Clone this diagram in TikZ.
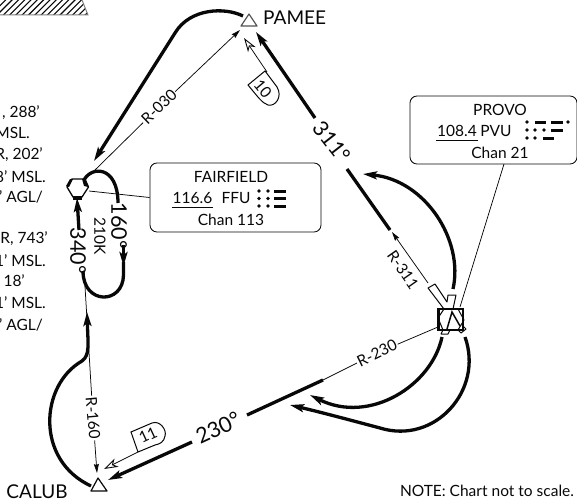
\documentclass[tikz,border=0pt]{standalone}
\usepackage{fontspec}
\setmainfont{Lato}
\usetikzlibrary{arrows.meta,patterns}
\definecolor{fg}{gray}{0.03}
\tikzset{
 x=1pt,y=-1pt,
 heavy/.style={line width=3.3pt,draw=fg},
 heavytip/.style={-{Stealth[length=14pt,width=8pt,inset=3pt]}},
 thinline/.style={line width=0.75pt,draw=fg},
 thintip/.style={-{Stealth[length=9pt,width=5pt,inset=1pt]}},
 opentip/.style={-{Stealth[open,fill=white,length=14pt,width=9pt,inset=4pt,line width=0.9pt]}},
 fixmark/.style={draw=fg,line width=1pt,fill=white,line join=round},
 lbl/.style={fill=white,inner sep=1pt,font=\fontsize{15.5}{15.5}\selectfont,text=fg},
 bigdeg/.style={fill=white,inner sep=1pt,font=\fontsize{21.5}{21.5}\selectfont,text=fg},
 wpname/.style={inner sep=0pt,font=\fontsize{19}{19}\selectfont,text=fg},
 cutoff/.style={anchor=east,inner sep=0pt,font=\fontsize{15.5}{15.5}\selectfont,text=fg},
 boxline/.style={inner sep=0pt,font=\fontsize{15.5}{15.5}\selectfont,text=fg},
 infobox/.style={draw=fg,line width=0.85pt,rounded corners=7pt,fill=white},
 flagbox/.style={draw=fg,line width=1pt,fill=white},
 morse/.style={line width=3pt,draw=fg},
 dotm/.style={fill=fg,draw=none},
}
\begin{document}
\begin{tikzpicture}
\useasboundingbox (0,0) rectangle (577,500);
\clip (0,0) rectangle (577,500);

% hatched strip
\begin{scope}
 \clip (0,0) -- (82,0) -- (88,15) -- (0,15) -- cycle;
 \foreach \i in {-2,...,16} { \draw[line width=1.1pt,fg] (\i*6.3-4,16) -- (\i*6.3+14,-2); }
\end{scope}
\draw[line width=1pt,gray] (0,15) -- (88,15) -- (82,0);

% clipped text at the left
\node[cutoff] at (40,113) {, 288’};
\node[cutoff] at (30,133) {MSL.};
\node[cutoff] at (43,155) {R, 202’};
\node[cutoff] at (46,177) {8’ MSL.};
\node[cutoff] at (43,197) {’ AGL/};
\node[cutoff] at (48,239) {R, 743’};
\node[cutoff] at (46,261) {1’ MSL.};
\node[cutoff] at (25,282) {, 18’};
\node[cutoff] at (46,303) {1’ MSL.};
\node[cutoff] at (43,325) {’ AGL/};

% named positions
\coordinate (pameeIn) at (240,30);
\coordinate (pameeOut) at (243,16);
\coordinate (pameeTip) at (256,32);
\coordinate (ffuOut) at (95,170);
\coordinate (ffuTip) at (94,161);
\coordinate (ffuNE) at (89,191);
\coordinate (vorW) at (438,327);
\coordinate (vorNW) at (428,283);
\coordinate (vorN) at (460,307);
\coordinate (calubIn) at (97,473);
\coordinate (calubTip) at (108,480);
\coordinate (calubOut) at (91,486);
\coordinate (holdEnd) at (84,270);
\coordinate (r311Tip) at (392,232);

% thin radials
\node[lbl,rotate=44] (r030) at (159,107) {R-030};
\node[lbl,rotate=-55,fill=none] (r311) at (403,270) {R-311};
\node[lbl,rotate=26] (r230) at (377,353) {R-230};
\node[lbl,rotate=-85] (r160) at (93,418) {R-160};
\draw[thinline] (ffuOut) -- (r030);
\draw[thinline,thintip] (r030) -- (pameeIn);
\draw[thinline] (vorW) -- (r230);
\draw[thinline] (r230) -- (323,380);
\draw[thinline] (holdEnd) -- (r160);
\draw[thinline,thintip] (r160) -- (calubIn);

% heavy tracks
\draw[heavy,heavytip] (pameeOut) .. controls (225,7) and (190,8) .. (175,33) -- (ffuTip);
\node[bigdeg,rotate=-52,fill=none] (c311) at (332,142) {311°};
\draw[heavy,heavytip] (315,118) -- (pameeTip);
\draw[heavy] (347,169) -- (390,230);
\draw[thinline,thintip] (vorNW) -- (r311Tip);
\draw[heavy,heavytip] (453,289) .. controls (464,240) and (425,180) .. (363,174);
\node[bigdeg,rotate=25,fill=none] (c230) at (218,428) {230°};
\draw[heavy,heavytip] (192,442) -- (calubTip);
\draw[heavy] (247,415) -- (323,380);
\draw[heavy,heavytip] (442,337) .. controls (432,385) and (370,425) .. (310,395);
\draw[heavy,heavytip] (465,337) .. controls (484,390) and (435,445) .. (380,428) .. controls (350,420) and (320,412) .. (290,405);
\draw[heavy,heavytip] (calubOut) .. controls (35,460) and (40,385) .. (82,361) .. controls (90,355) and (88,345) .. (87,312);

% holding pattern
\draw[heavy] (83,182) .. controls (90,165) and (118,165) .. (118,203);
\node[bigdeg,rotate=-90,fill=none,inner sep=0pt] (c160) at (119,226) {160°};
\node[boxline,rotate=-90] (k210) at (100,236) {210K};
\node[bigdeg,rotate=-90,fill=none,inner sep=0pt] (c340) at (78,251) {340°};
\draw[heavy,heavytip] (123.5,245) -- (123.5,266);
\draw[heavy] (123.5,262) -- (123.5,275) .. controls (123,305) and (83,305) .. (83,271);
\draw[heavy,heavytip] (79,230) -- (77,198);

% Fairfield box
\node[infobox,minimum width=171pt,minimum height=69pt] (ffubox) at (235.5,197.5) {};
\node[boxline] (ffu1) at (231,177) {FAIRFIELD};
\node[boxline,anchor=base] (ffu2a) at (192.5,203) {116.6};
\node[boxline,anchor=base] (ffu2b) at (236,203) {FFU};
\node[boxline] (ffu3) at (231,220) {Chan 113};
\draw[line width=0.7pt,fg] (172,207) -- (213,207);
\foreach \yy in {191,198.5,206} {
 \fill[dotm] (259,\yy) circle (1.9pt);
 \fill[dotm] (268,\yy) circle (1.9pt);
 \draw[morse] (274,\yy) -- (286,\yy);
}
\draw[thinline] (ffubox.west) -- (ffuNE);

% Fairfield navaid
\draw[fixmark,line width=1.3pt] (72,179) -- (85,179) -- (88.5,187) -- (82,197) -- (73,197) -- (67,187) -- cycle;
\fill[fg] (66,186) -- (70,179) -- (73,179) -- (69,187) -- cycle;
\fill[fg] (84,186) -- (82,179) -- (85,179) -- (88.5,187) -- cycle;
\fill[fg] (73,196) rectangle (82,200);

% Provo box
\node[infobox,minimum width=167pt,minimum height=68pt] (pvubox) at (493.5,130) {};
\node[boxline] (pvu1) at (500,110) {PROVO};
\node[boxline,anchor=base] (pvu2a) at (457,136) {108.4};
\node[boxline,anchor=base] (pvu2b) at (496,136) {PVU};
\node[boxline] (pvu3) at (500,153) {Chan 21};
\draw[line width=0.7pt,fg] (436,140) -- (478,140);
\draw[thinline] (504,164) -- (vorN);
\foreach \px/\py in {527/122,568/122,527/130,535/130,544/130,527/138,535/138} {
 \fill[dotm] (\px,\py) circle (1.8pt);
}
\draw[morse] (535,122) -- (546,122);
\draw[morse] (551,122) -- (563,122);
\draw[morse] (551,130) -- (563,130);
\draw[morse] (543,138) -- (554,138);

% Provo navaid with flags
\draw[fixmark] (428,288) -- (435,284) -- (447,302) -- (448,295) -- (456,295) -- (453,309) -- (444,309) -- cycle;
\draw[fixmark,fill=none,line width=1pt] (444,309) -- (438,318) -- (443,330) -- (458,330) -- (464,320) -- (458,309) -- cycle;
\draw[fixmark,fill=none,line width=1pt] (443,330) -- (441,334) -- (448,334) -- (450,330);
\draw[fixmark,fill=none,line width=1pt] (458,330) -- (461,333) -- (466,329) -- (462,325);
\draw[line width=1.5pt,fg] (447,329) -- (452,312) -- (460,326);
\draw[line width=2.5pt,fg] (438.5,309) rectangle (463,330);

% flags 10 and 11
\draw[thinline,opentip] (267,72) -- (244,38);
\draw[flagbox] (248,85) -- (265,71) -- (277,87) .. controls (283,97) and (275,107) .. (268,105) .. controls (262,103) and (258,97) .. cycle;
\node[boxline,rotate=-50,inner sep=0pt] (n10) at (263,89) {10};
\draw[thinline,opentip] (138,452) -- (104,469);
\draw[flagbox] (138,452) -- (131,432) -- (152,423) .. controls (160,420) and (167,430) .. (165,436) .. controls (164,442) and (160,444) .. (155,445) -- cycle;
\node[boxline,rotate=25,inner sep=0pt] (n11) at (148,435) {11};

% triangles and names
\draw[fixmark,fill=none,draw=fg!70,line width=1.2pt] (249,14) -- (241,26) -- (257,26) -- cycle;
\node[wpname,anchor=west] (pamee) at (263,18) {PAMEE};
\draw[fixmark,fill=none,line width=1.2pt] (98,478) -- (91,491) -- (107,491) -- cycle;
\node[wpname,anchor=center] (calub) at (37,492) {CALUB};
\node[boxline] (note) at (487,491) {NOTE: Chart not to scale.};
\end{tikzpicture}
\end{document}
